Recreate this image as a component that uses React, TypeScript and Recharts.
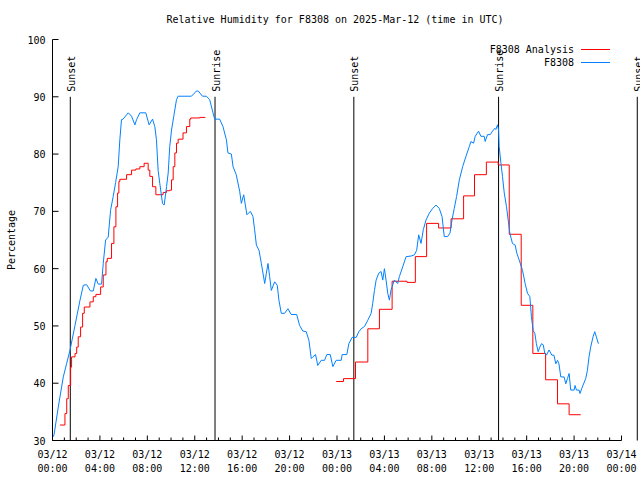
import { LineChart, Line, XAxis, YAxis, ReferenceLine } from "recharts";

const FONT = "'DejaVu Sans Mono', 'Liberation Mono', monospace";

// F8308 observations (hours since 03/12 00:00 UTC, relative humidity %)
const obsHours = [
  0.0, 0.13, 0.5, 0.91, 1.2, 1.47, 1.9, 2.32, 2.6, 2.88, 3.2, 3.44, 3.66, 3.86, 4.14, 4.28, 4.48, 4.7, 4.9, 5.12,
  5.32, 5.54, 5.68, 5.82, 5.95, 6.39, 6.67, 6.95, 7.09, 7.37, 7.87, 8.15, 8.44, 8.63, 8.77, 8.91, 9.05, 9.28, 9.42, 9.62,
  9.76, 9.89, 10.04, 10.23, 10.46, 10.6, 11.72, 12.14, 12.3, 12.65, 12.98, 13.26, 13.54, 13.68, 14.1, 14.38, 14.67, 14.8, 15.09, 15.23,
  15.5, 15.79, 15.93, 16.13, 16.4, 16.69, 16.91, 17.05, 17.2, 17.42, 17.62, 17.9, 18.04, 18.18, 18.32, 18.46, 18.74, 18.96, 19.1, 19.3,
  19.58, 19.86, 20.14, 20.6, 20.84, 21.12, 21.4, 21.63, 21.83, 21.96, 22.19, 22.38, 22.67, 22.95, 23.14, 23.43, 23.65, 23.93, 24.35, 24.44,
  24.83, 25.0, 25.28, 25.62, 25.84, 26.04, 26.32, 26.6, 26.88, 27.01, 27.16, 27.3, 27.52, 27.72, 27.86, 28.0, 28.14, 28.28, 28.42, 28.56,
  28.84, 29.12, 29.26, 29.54, 29.83, 30.25, 30.53, 30.72, 30.89, 31.09, 31.28, 31.51, 31.79, 32.07, 32.35, 32.63, 32.86, 33.05, 33.33, 33.53,
  33.7, 33.89, 34.09, 34.32, 34.6, 34.88, 35.16, 35.3, 35.52, 35.66, 35.94, 36.14, 36.42, 36.5, 36.7, 36.93, 37.12, 37.32, 37.4, 37.54,
  37.63, 37.68, 37.83, 37.96, 38.11, 38.3, 38.44, 38.58, 38.8, 39.03, 39.17, 39.37, 39.65, 39.87, 40.07, 40.27, 40.4, 40.55, 40.69, 40.82,
  40.97, 41.11, 41.25, 41.4, 41.53, 41.67, 41.89, 42.12, 42.3, 42.46, 42.6, 42.72, 42.88, 43.16, 43.3, 43.44, 43.58, 43.72, 44.0, 44.08,
  44.2, 44.42, 44.5, 44.65, 44.98, 45.12, 45.26, 45.4, 45.6, 45.74, 45.88, 46.05,
];
const obsRh = [
  30.5, 31.0, 36.0, 41.1, 43.5, 45.7, 50.1, 54.5, 57.1, 57.2, 56.1, 56.1, 58.3, 57.3, 57.3, 60.9, 65.0, 65.5, 70.2, 72.6,
  75.0, 77.8, 82.5, 86.0, 86.1, 87.2, 86.6, 85.1, 86.0, 87.2, 87.2, 85.1, 86.1, 84.8, 82.5, 77.2, 74.9, 71.4, 71.1, 74.3,
  76.7, 81.3, 84.2, 86.6, 89.5, 90.1, 90.1, 91.0, 91.0, 90.1, 90.1, 89.5, 87.2, 86.1, 86.1, 84.8, 82.5, 80.2, 80.0, 77.8,
  76.4, 73.5, 71.4, 72.9, 69.4, 70.0, 69.1, 66.8, 64.1, 63.2, 60.9, 57.4, 59.2, 60.9, 58.6, 56.2, 57.7, 57.1, 54.5, 52.2,
  52.2, 53.0, 52.0, 52.0, 50.1, 49.1, 49.0, 47.5, 44.3, 44.6, 45.0, 43.1, 44.0, 44.0, 45.0, 45.0, 42.9, 44.0, 44.0, 45.0,
  45.0, 46.9, 48.0, 48.0, 49.0, 49.5, 49.9, 51.0, 52.2, 53.9, 56.2, 58.0, 59.2, 59.5, 58.0, 60.0, 58.0, 55.7, 54.5, 56.3,
  58.0, 57.4, 58.6, 60.3, 62.1, 62.2, 62.4, 63.2, 65.9, 64.4, 66.8, 68.5, 69.7, 70.5, 71.1, 70.5, 69.1, 65.6, 65.6, 66.2,
  68.5, 70.5, 72.6, 75.5, 77.8, 79.6, 81.3, 82.2, 81.9, 83.1, 84.0, 83.1, 83.1, 82.2, 83.4, 83.4, 84.0, 84.5, 84.3, 85.1,
  84.2, 81.3, 78.4, 76.1, 73.2, 70.8, 68.5, 66.2, 64.4, 64.1, 62.7, 61.5, 59.7, 57.4, 55.7, 55.1, 51.6, 49.2, 48.7, 46.9,
  45.5, 46.3, 46.9, 46.7, 45.2, 44.9, 45.8, 44.9, 44.9, 43.4, 44.0, 43.4, 41.1, 41.1, 39.9, 40.8, 41.7, 38.8, 38.8, 39.6,
  38.8, 38.8, 38.2, 39.1, 40.8, 42.2, 44.6, 46.3, 48.1, 49.0, 48.1, 46.9,
];

// F8308 Analysis (step values; null marks the gap)
const anaHours = [
  0.63, 1.05, 1.2, 1.33, 1.53, 1.61, 1.9, 2.04, 2.17, 2.37, 2.54, 2.68, 3.16, 3.44, 3.66, 4.06, 4.28, 4.51, 4.62, 4.98,
  5.18, 5.35, 5.49, 5.6, 5.68, 6.25, 6.67, 7.03, 7.37, 7.73, 8.07, 8.21, 8.44, 8.72, 9.33, 9.62, 9.89, 10.04, 10.18, 10.32,
  10.46, 10.6, 11.01, 11.3, 11.58, 11.66, 12.42, 12.9, 18.0,
  23.93, 24.55, 25.56, 26.6, 27.58, 28.65, 29.91, 30.61, 31.56, 32.57, 33.62, 34.68, 35.6, 36.6, 37.6, 38.53, 39.54, 40.52, 41.6, 42.6,
  43.58, 44.56,
];
const anaRh = [
  32.7, 34.7, 37.3, 39.6, 42.8, 44.6, 45.2, 46.3, 48.1, 49.8, 52.2, 53.3, 54.2, 55.1, 55.5, 56.8, 58.9, 61.2, 61.8, 64.4,
  67.3, 70.8, 73.2, 75.2, 75.6, 76.4, 77.2, 77.4, 77.8, 78.4, 77.2, 76.1, 74.3, 72.9, 73.3, 73.6, 73.7, 75.5, 77.8, 80.2,
  81.9, 82.6, 83.7, 84.8, 86.1, 86.3, 86.4, 86.4, null,
  40.3, 40.8, 43.7, 49.5, 52.9, 57.8, 57.6, 62.1, 67.9, 67.1, 68.7, 72.7, 76.4, 78.6, 78.1, 66.0, 53.6, 45.2, 40.6, 36.4,
  34.5, 34.5,
];

// sunset / sunrise times (hours)
const sunHours = [1.5, 13.71, 25.42, 37.63, 49.33];
const sunNames = ["Sunset", "Sunrise", "Sunset", "Sunrise", "Sunset"];

const hourTicks = Array.from({ length: 49 }, (_, i) => i);
const rhTicks = [30, 40, 50, 60, 70, 80, 90, 100];

const obsData = obsHours.map((h, i) => ({ h, v: obsRh[i] }));
const anaData = anaHours.map((h, i) => ({ h, v: anaRh[i] }));

const pad = (n: number) => String(n).padStart(2, "0");

function BottomTick({ x, y, payload }: any) {
  const h = payload.value;
  const major = h % 4 === 0;
  return (
    <g>
      <line x1={x} x2={x} y1={y} y2={y - (major ? 5 : 3)} stroke="#000" />
      {major && (
        <text x={x} y={y + 17} textAnchor="middle" fontFamily={FONT} fontSize={10} fill="#000">
          <tspan x={x}>{`03/${pad(12 + Math.floor(h / 24))}`}</tspan>
          <tspan x={x} dy={14}>{`${pad(h % 24)}:00`}</tspan>
        </text>
      )}
    </g>
  );
}

function TopTick({ x, y, payload }: any) {
  const major = payload.value % 4 === 0;
  return <line x1={x} x2={x} y1={y} y2={y + (major ? 5 : 3)} stroke="#000" />;
}

function LeftTick({ x, y, payload }: any) {
  return (
    <g>
      <line x1={x} x2={x + 6} y1={y} y2={y} stroke="#000" />
      <text x={x - 7} y={y + 4} textAnchor="end" fontFamily={FONT} fontSize={10} fill="#000">
        {payload.value}
      </text>
    </g>
  );
}

function RightTick({ x, y }: any) {
  return <line x1={x} x2={x - 5} y1={y} y2={y} stroke="#000" />;
}

function SunLabel({ viewBox, text }: any) {
  const vx = viewBox?.x ?? viewBox?.x1 ?? 0;
  const vy = viewBox?.y ?? Math.min(viewBox?.y1 ?? 0, viewBox?.y2 ?? 0);
  const ty = vy - 5;
  return (
    <text
      x={vx + 1}
      y={ty}
      transform={`rotate(-90 ${vx + 1} ${ty})`}
      dominantBaseline="central"
      fontFamily={FONT}
      fontSize={10}
      fill="#000"
    >
      {text}
    </text>
  );
}

export default function App() {
  return (
    <div style={{ position: "absolute", left: 0, top: 0, width: 640, height: 480, background: "#fff" }}>
      <LineChart width={640} height={480} margin={{ top: 39.5, right: 18.5, bottom: 0, left: 0.5 }}>
        <XAxis
          xAxisId="b"
          dataKey="h"
          type="number"
          domain={[0, 48]}
          ticks={hourTicks}
          interval={0}
          allowDataOverflow
          height={39.5}
          tickSize={0}
          tickMargin={0}
          tickLine={false}
          axisLine={{ stroke: "#000" }}
          tick={<BottomTick />}
        />
        <XAxis
          xAxisId="t"
          orientation="top"
          dataKey="h"
          type="number"
          domain={[0, 48]}
          ticks={hourTicks}
          interval={0}
          allowDataOverflow
          height={0}
          tickSize={0}
          tickMargin={0}
          tickLine={false}
          axisLine={{ stroke: "#000" }}
          tick={<TopTick />}
        />
        <YAxis
          yAxisId="l"
          type="number"
          domain={[30, 100]}
          ticks={rhTicks}
          interval={0}
          allowDataOverflow
          width={52}
          tickSize={0}
          tickMargin={0}
          tickLine={false}
          axisLine={{ stroke: "#000" }}
          tick={<LeftTick />}
        />
        <YAxis
          yAxisId="r"
          orientation="right"
          type="number"
          domain={[30, 100]}
          ticks={rhTicks}
          interval={0}
          width={0}
          tickSize={0}
          tickMargin={0}
          tickLine={false}
          axisLine={{ stroke: "#000" }}
          tick={<RightTick />}
        />
        {sunHours.map((h, i) => (
          <ReferenceLine
            key={i}
            xAxisId="b"
            yAxisId="l"
            segment={[
              { x: h, y: 30 },
              { x: h, y: 90 },
            ]}
            stroke="#000"
            strokeWidth={1}
            ifOverflow="visible"
            label={<SunLabel text={sunNames[i]} />}
          />
        ))}
        <Line
          xAxisId="b"
          yAxisId="l"
          data={anaData}
          dataKey="v"
          type="stepAfter"
          stroke="#ff0000"
          strokeWidth={1}
          dot={false}
          isAnimationActive={false}
        />
        <Line
          xAxisId="b"
          yAxisId="l"
          data={obsData}
          dataKey="v"
          type="linear"
          stroke="#0080ff"
          strokeWidth={1}
          dot={false}
          isAnimationActive={false}
        />
      </LineChart>
      <svg
        width={640}
        height={480}
        style={{ position: "absolute", left: 0, top: 0, pointerEvents: "none" }}
        fontFamily={FONT}
        fontSize={10}
      >
        <text x={335} y={23} textAnchor="middle" fill="#000">
          Relative Humidity for F8308 on 2025-Mar-12 (time in UTC)
        </text>
        <text x={11} y={240} textAnchor="middle" dominantBaseline="central" transform="rotate(-90 11 240)" fill="#000">
          Percentage
        </text>
        <text x={574} y={53} textAnchor="end" fill="#000">
          F8308 Analysis
        </text>
        <line x1={581} x2={610} y1={49.5} y2={49.5} stroke="#ff0000" />
        <text x={574} y={66} textAnchor="end" fill="#000">
          F8308
        </text>
        <line x1={581} x2={610} y1={62.5} y2={62.5} stroke="#0080ff" />
      </svg>
    </div>
  );
}
